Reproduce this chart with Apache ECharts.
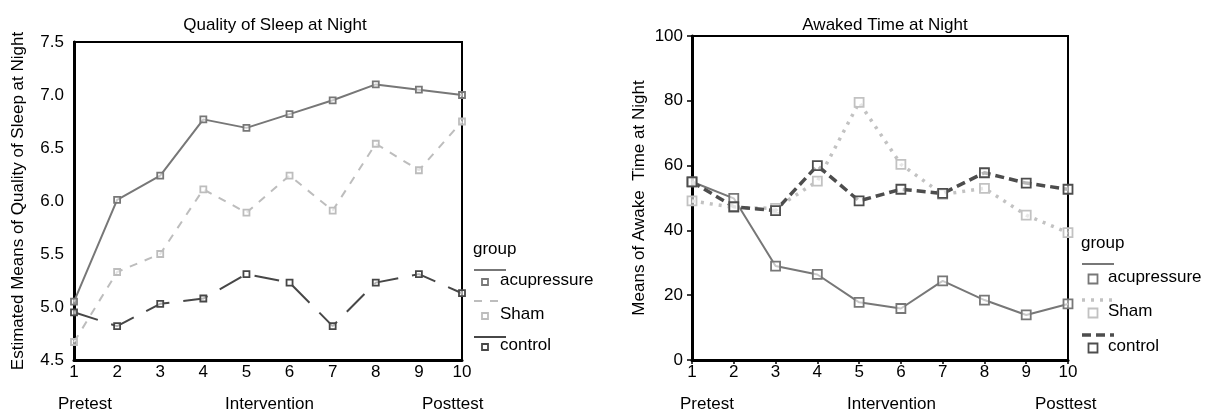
<!DOCTYPE html>
<html><head><meta charset="utf-8">
<script src="https://cdn.jsdelivr.net/npm/echarts@6/dist/echarts.min.js"></script>
<style>html,body{margin:0;padding:0;background:#fff}#c{width:1213px;height:411px}</style>
</head><body><div id="c"></div>
<script>
const sessions = ['1','2','3','4','5','6','7','8','9','10'];
const phaseLabels = ['Pretest','Intervention','Posttest'];
const groups = ['acupressure','Sham','control'];
const sleepAcupressure = [5.05,6.01,6.24,6.77,6.69,6.82,6.95,7.10,7.05,7.00];
const sleepSham = [4.67,5.33,5.50,6.11,5.89,6.24,5.91,6.54,6.29,6.75];
const sleepControl = [4.95,4.82,5.03,5.08,5.31,5.23,4.82,5.23,5.31,5.13];
const awakeAcupressure = [55.0,49.9,29.0,26.4,17.8,15.9,24.4,18.5,13.9,17.3];
const awakeSham = [49.1,47.1,46.8,55.2,79.5,60.4,51.1,53.0,44.7,39.3];
const awakeControl = [55.0,47.3,46.1,60.0,49.1,52.7,51.4,57.8,54.6,52.7];

const FONT = '"Liberation Sans", Arial, sans-serif';
const FS = 17;
const leftStyles = [
  {color:'#777777', width:2, type:'solid', sym:6, legendDash:null},
  {color:'#bdbdbd', width:2, type:[8,8], sym:6, legendDash:[8,8]},
  {color:'#474747', width:2, type:[25,14], sym:6, legendDash:null}
];
const rightStyles = [
  {color:'#777777', width:2, type:'solid', sym:9, legendDash:null},
  {color:'#c2c2c2', width:3.5, type:[3,6], sym:9, legendDash:[3,6]},
  {color:'#4d4d4d', width:3.5, type:[9,5], sym:9, legendDash:[9,5]}
];
const sleepData = [sleepAcupressure, sleepSham, sleepControl];
const awakeData = [awakeAcupressure, awakeSham, awakeControl];

function mkSeries(data, styles, idx) {
  return groups.map((g, i) => ({
    name: g, type: 'line', xAxisIndex: idx, yAxisIndex: idx,
    data: data[i], symbol: 'rect', symbolSize: styles[i].sym,
    lineStyle: {color: styles[i].color, width: styles[i].width, type: styles[i].type},
    itemStyle: {color: 'rgba(255,255,255,0.6)', borderColor: styles[i].color, borderWidth: 1.8},
    clip: false, animation: false, silent: true
  }));
}

function legendGraphics(x0, yGroup, rows, styles) {
  const els = [{type:'text', left: x0, top: yGroup - 10, style:{text:'group', font: FS+'px '+FONT, fill:'#000'}}];
  rows.forEach((r, i) => {
    const st = styles[i];
    els.push({type:'line', shape:{x1:x0+1, y1:r.line, x2:x0+33, y2:r.line},
      style:{stroke: st.color, lineWidth: st.width, lineDash: st.legendDash}});
    const s = st.sym;
    els.push({type:'rect', shape:{x: x0+12 - s/2, y: r.mark - s/2, width: s, height: s},
      style:{fill:'#fff', stroke: st.color, lineWidth: 1.8}});
    els.push({type:'text', left: x0+27, top: r.mark - 10, style:{text: groups[i], font: FS+'px '+FONT, fill:'#000'}});
  });
  return els;
}

function axisCommon() {
  return {
    axisLine: {show: true, lineStyle: {color: '#000', width: 3}},
    axisLabel: {color: '#000', fontSize: FS, fontFamily: FONT},
    splitLine: {show: false}
  };
}

const chart = echarts.init(document.getElementById('c'), null, {renderer: 'canvas'});
chart.setOption({
  backgroundColor: '#fff',
  animation: false,
  title: [
    {text: 'Quality of Sleep at Night', left: 270, top: 12, textAlign: 'center',
      textStyle: {fontSize: FS, fontWeight: 'normal', fontFamily: FONT, color: '#000'}},
    {text: 'Awaked Time at Night', left: 880, top: 12, textAlign: 'center',
      textStyle: {fontSize: FS, fontWeight: 'normal', fontFamily: FONT, color: '#000'}}
  ],
  grid: [
    {left: 74, right: 751, top: 42, bottom: 51, show: true, borderColor: '#000', borderWidth: 2, backgroundColor: 'transparent'},
    {left: 692, right: 145, top: 36, bottom: 51, show: true, borderColor: '#000', borderWidth: 2, backgroundColor: 'transparent'}
  ],
  xAxis: [0, 1].map(i => Object.assign(axisCommon(), {
    type: 'category', gridIndex: i, data: sessions, boundaryGap: false,
    axisTick: {show: i === 1, length: 4, alignWithLabel: true, lineStyle: {color: '#000', width: 1.5}},
    axisLabel: Object.assign(axisCommon().axisLabel, {margin: 4, interval: 0})
  })),
  yAxis: [
    Object.assign(axisCommon(), {
      type: 'value', gridIndex: 0, min: 4.5, max: 7.5, interval: 0.5,
      axisTick: {show: false},
      axisLabel: Object.assign(axisCommon().axisLabel, {margin: 10, formatter: v => v.toFixed(1)}),
      name: 'Estimated Means of Quality of Sleep at Night', nameLocation: 'middle', nameGap: 47,
      nameTextStyle: {fontSize: FS, fontFamily: FONT, color: '#000'}
    }),
    Object.assign(axisCommon(), {
      type: 'value', gridIndex: 1, min: 0, max: 100, interval: 20,
      axisTick: {show: true, length: 5, lineStyle: {color: '#000', width: 1.5}},
      axisLabel: Object.assign(axisCommon().axisLabel, {margin: 9}),
      name: 'Means of Awake  Time at Night', nameLocation: 'middle', nameGap: 44,
      nameTextStyle: {fontSize: FS, fontFamily: FONT, color: '#000'}
    })
  ],
  graphic: [
    {type:'text', left: 58, top: 396, style:{text: phaseLabels[0], font: FS+'px '+FONT, fill:'#000'}},
    {type:'text', left: 225, top: 396, style:{text: phaseLabels[1], font: FS+'px '+FONT, fill:'#000'}},
    {type:'text', left: 422, top: 396, style:{text: phaseLabels[2], font: FS+'px '+FONT, fill:'#000'}},
    {type:'text', left: 680, top: 396, style:{text: phaseLabels[0], font: FS+'px '+FONT, fill:'#000'}},
    {type:'text', left: 847, top: 396, style:{text: phaseLabels[1], font: FS+'px '+FONT, fill:'#000'}},
    {type:'text', left: 1035, top: 396, style:{text: phaseLabels[2], font: FS+'px '+FONT, fill:'#000'}},
    ...legendGraphics(473, 251, [{line:270, mark:282},{line:301, mark:316},{line:337, mark:347}], leftStyles),
    ...legendGraphics(1081, 245, [{line:264, mark:279},{line:300, mark:313},{line:335, mark:348}], rightStyles)
  ],
  series: [...mkSeries(sleepData, leftStyles, 0), ...mkSeries(awakeData, rightStyles, 1)]
});
</script></body></html>
